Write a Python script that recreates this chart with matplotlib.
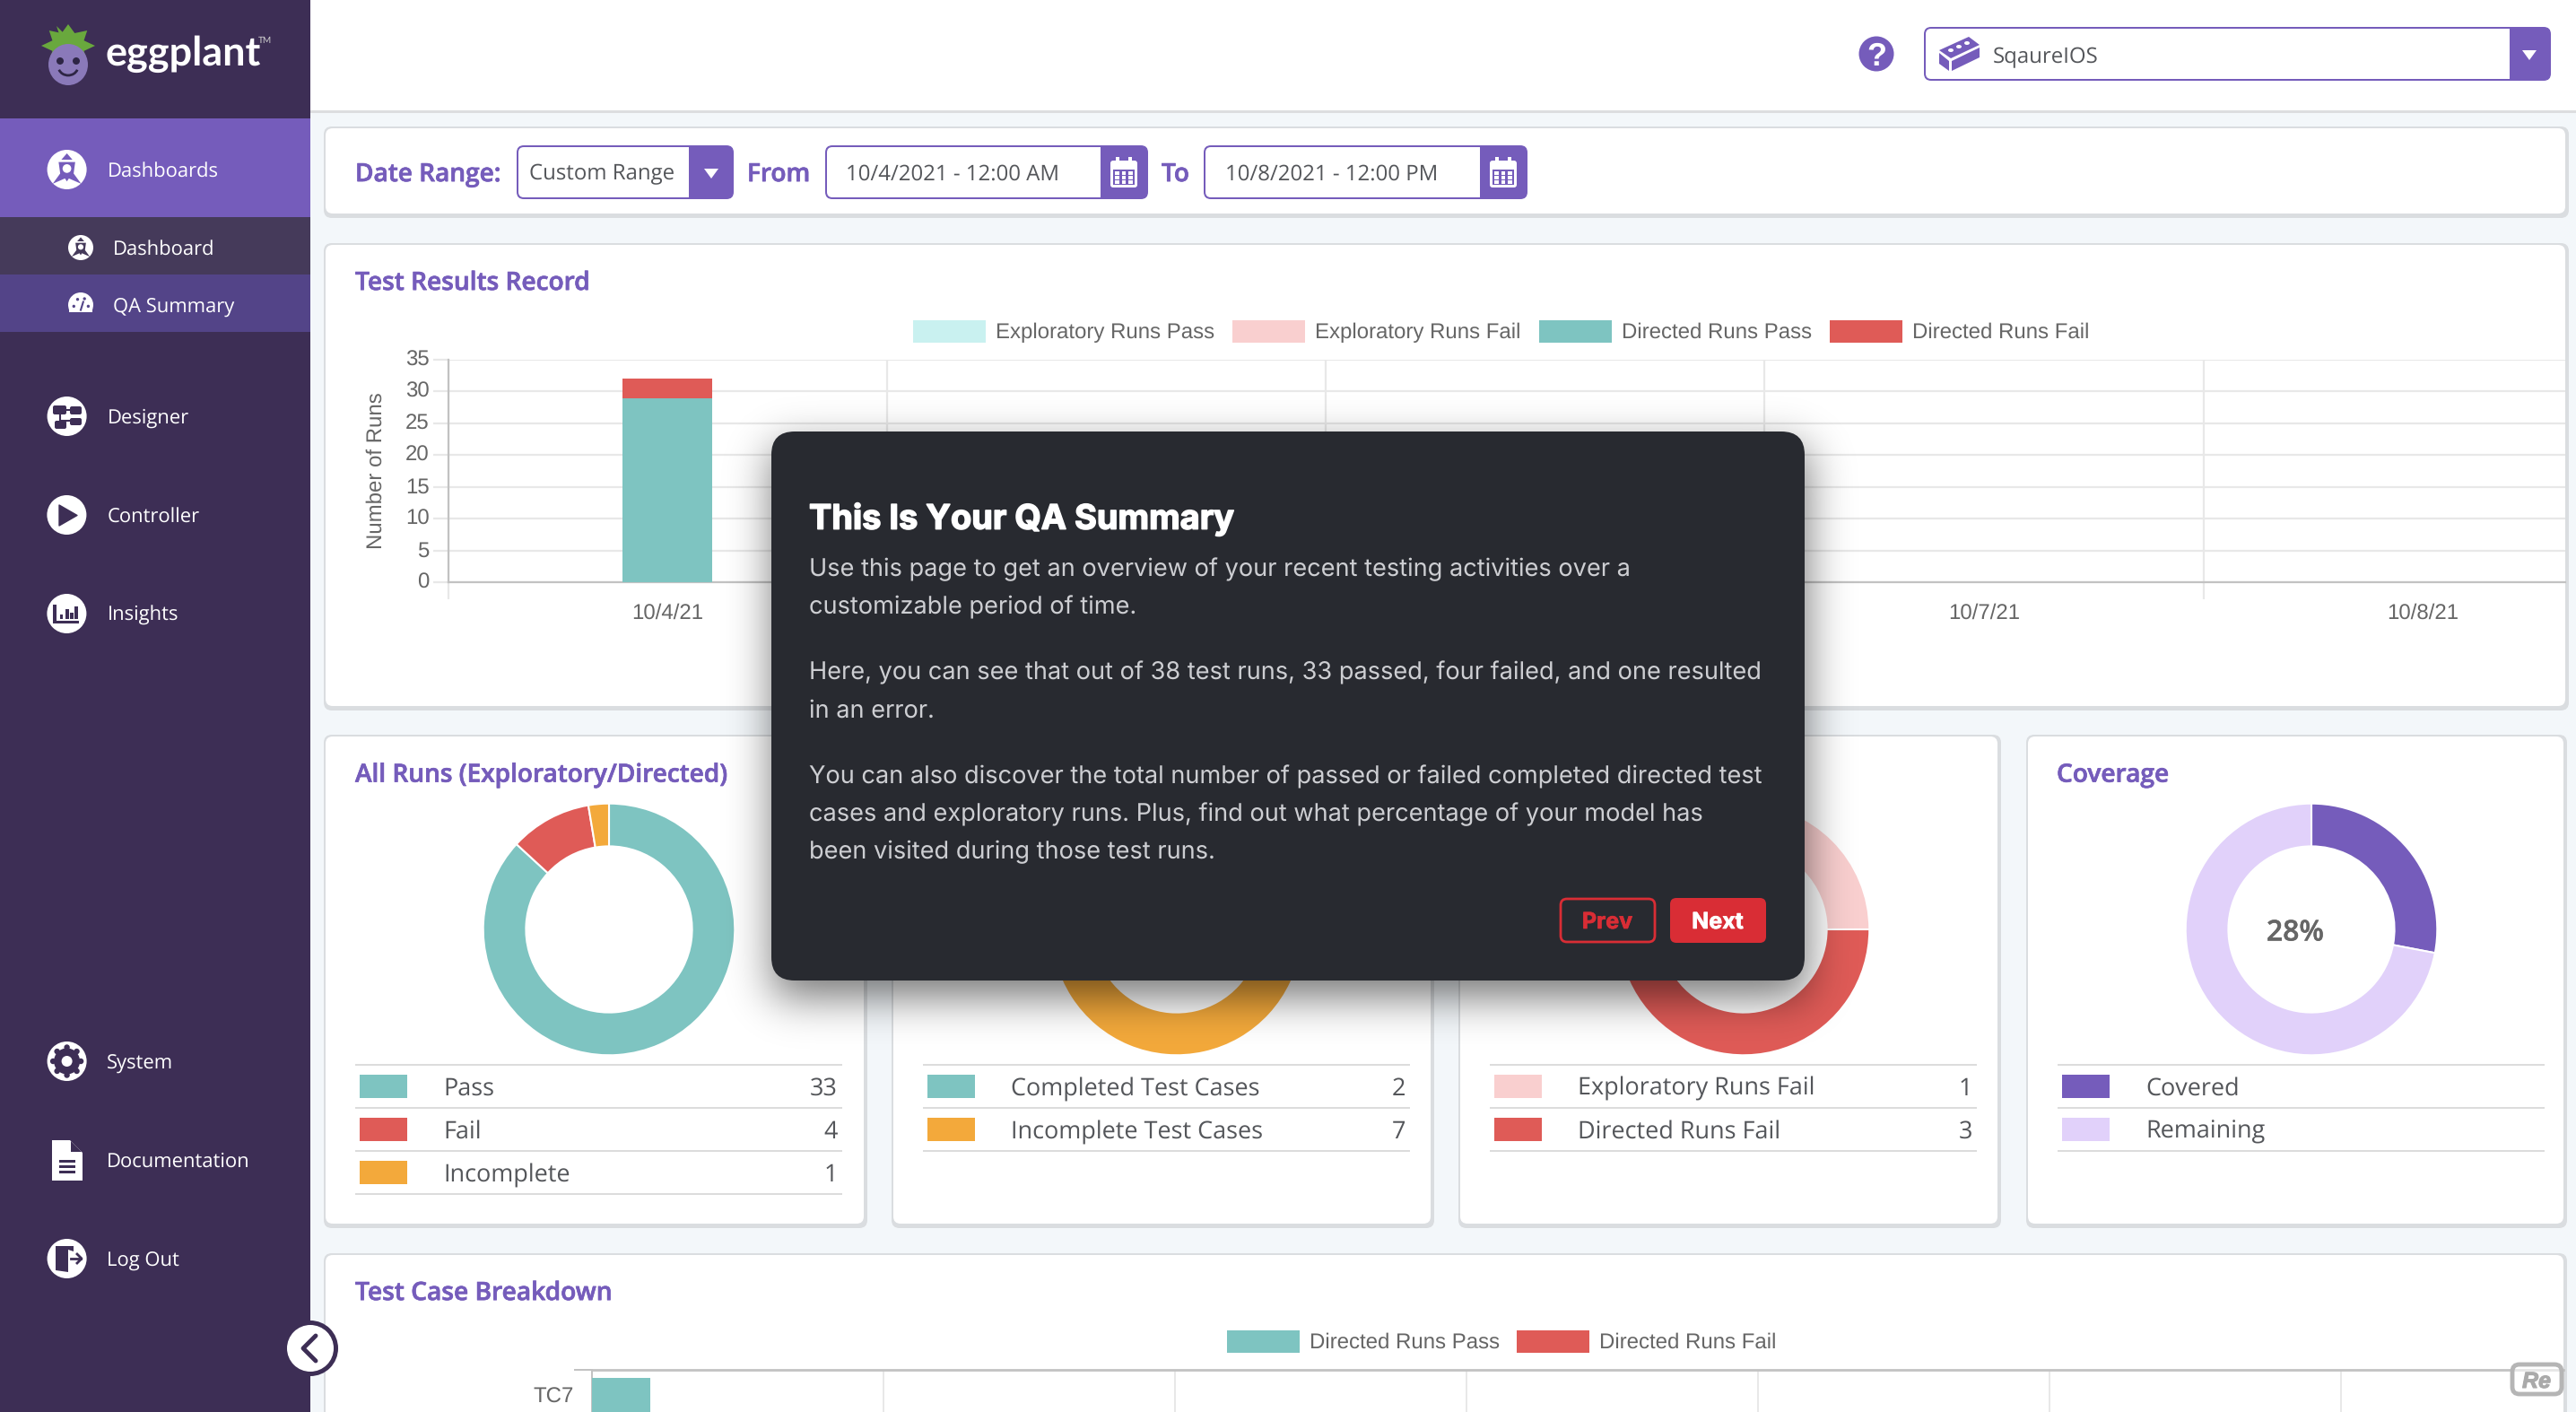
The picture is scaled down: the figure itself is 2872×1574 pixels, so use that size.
import numpy as np, math
import matplotlib
matplotlib.use("Agg")
import matplotlib.pyplot as plt
import matplotlib.patheffects as pe
from matplotlib.patches import FancyBboxPatch, Rectangle, Polygon, Circle, Ellipse, Wedge, Arc
from matplotlib.font_manager import FontProperties
from matplotlib.textpath import TextPath
from matplotlib.transforms import ScaledTranslation

plt.rcParams["text.hinting"] = "no_hinting"
plt.rcParams["text.hinting_factor"] = 1

# ---------- data ----------
dates = ["10/4/21", "10/5/21", "10/6/21", "10/7/21", "10/8/21"]
dates_hidden_by_dialog = ["10/5/21", "10/6/21"]
exploratory_pass = [0, 0, 0, 0, 0]
exploratory_fail = [0, 0, 0, 0, 0]
directed_pass = [29, 0, 0, 0, 0]
directed_fail = [3, 0, 0, 0, 0]
y_ticks = [0, 5, 10, 15, 20, 25, 30, 35]

all_runs_labels = ["Pass", "Fail", "Incomplete"]
all_runs_values = [33, 4, 1]
cases_labels = ["Completed Test Cases", "Incomplete Test Cases"]
cases_values = [2, 7]
fails_labels = ["Exploratory Runs Fail", "Directed Runs Fail"]
fails_values = [1, 3]
coverage_labels = ["Covered", "Remaining"]
coverage_values = [28, 72]

breakdown_cases = ["TC7"]
breakdown_pass = [1]
breakdown_ticks = [0, 5, 10, 15, 20, 25, 30, 35]

# ---------- colours ----------
PURPLE = "#755cbb"; SIDE = "#3d2e55"; BG = "#f3f7fa"
TEAL = "#7ec4c1"; RED = "#df5b57"; ORANGE = "#f3a93b"
PINK = "#f9cfcf"; MINT = "#c9f1f0"; LILAC = "#e1d1fa"
GREY = "#666666"; TXT = "#54565a"; GRID = "#e8e8e8"; AX = "#c2c2c2"
DLG = "#282a30"

W, H = 2872, 1574
fig = plt.figure(figsize=(W / 100, H / 100), dpi=100, facecolor=BG)


def axpx(x0, y0, x1, y1, z=1):
    a = fig.add_axes([x0 / W, 1 - y1 / H, (x1 - x0) / W, (y1 - y0) / H])
    a.set_zorder(z)
    a.patch.set_alpha(0)
    return a


def overlay(z):
    a = axpx(0, 0, W, H, z)
    a.set_xlim(0, W); a.set_ylim(H, 0); a.axis("off")
    return a


bg = overlay(0)
top = overlay(5)


def fs(s, w, family, weight="normal", style="normal"):
    fp = FontProperties(family=family, weight=weight, style=style)
    tw = TextPath((0, 0), s, size=100, prop=fp).get_extents().width
    return 100 * (w * 0.72) / tw


def T(a, x, yc, s, size, family="Open Sans", color=TXT, weight="normal", ha="left", style="normal", z=5, stroke=0):
    px = size / 0.72
    t = a.text(x, yc + 0.36 * px, s, fontsize=size, family=family, color=color, weight=weight,
               ha=ha, va="baseline", style=style, zorder=z)
    if stroke:
        t.set_path_effects([pe.withStroke(linewidth=stroke, foreground=color)])
    return t


def rr(a, x0, y0, x1, y1, r, z=2, **kw):
    kw.setdefault("lw", 0)
    p = FancyBboxPatch((x0 + r, y0 + r), x1 - x0 - 2 * r, y1 - y0 - 2 * r,
                       boxstyle=f"round,pad={r},rounding_size={r}", zorder=z, **kw)
    a.add_patch(p)
    return p


def R(a, x0, y0, x1, y1, c, z=3, **kw):
    a.add_patch(Rectangle((x0, y0), x1 - x0, y1 - y0, fc=c, lw=kw.pop("lw", 0), zorder=z, **kw))


def panel(x0, y0, x1, y1):
    rr(bg, x0 - 2, y0 - 2, x1 + 4, y1 + 5, 9, z=1, fc="#dadde0")
    rr(bg, x0, y0, x1, y1, 8, z=1.5, fc="white")


# ---------- chrome ----------
R(bg, 346, 0, W, 123, "white", z=0.5)
R(bg, 346, 123, W, 126, "#dcdddf", z=0.5)
R(bg, 0, 0, 346, H, SIDE, z=0.6)
R(bg, 0, 132, 346, 242, PURPLE, z=0.7)
R(bg, 0, 242, 346, 306, "#453a5a", z=0.7)
R(bg, 0, 306, 346, 370, "#534488", z=0.7)

# logo
leaf = []
for i in range(16):
    ang = math.pi * 2 * i / 16
    rad = 30 if i % 2 == 0 else 19
    leaf.append((76 + rad * math.sin(ang), 51 - rad * 0.8 * math.cos(ang)))
bg.add_patch(Polygon(leaf, fc="#69a83d", lw=0, zorder=3))
bg.add_patch(Polygon([(63, 29), (72, 38), (70, 44), (66, 38)], fc="#69a83d", lw=0, zorder=3))
bg.add_patch(Ellipse((76, 72), 44, 46, fc="#8a79b9", lw=0, zorder=4))
bg.add_patch(Circle((67, 68), 4, fc="#2e2545", lw=0, zorder=5))
bg.add_patch(Circle((85, 68), 4, fc="#2e2545", lw=0, zorder=5))
bg.add_patch(Arc((76, 74), 22, 20, theta1=20, theta2=160, ec="#2e2545", lw=2, zorder=5))
T(bg, 118, 57, "eggplant", fs("eggplant", 172, "Lato", "bold"), family="Lato", color="white", weight="bold")
T(bg, 288, 44, "TM", 7, family="Lato", color="#cfcfcf")

SF = fs("Dashboards", 123, "Open Sans")


def icon_lighthouse(cx, cy, r, c):
    bg.add_patch(Circle((cx, cy), r, fc="white", lw=0, zorder=4))
    bg.add_patch(Polygon([(cx - .28 * r, cy - .5 * r), (cx, cy - .82 * r), (cx + .28 * r, cy - .5 * r)], fc=c, lw=0, zorder=5))
    bg.add_patch(Polygon([(cx - .42 * r, cy - .38 * r), (cx + .42 * r, cy - .38 * r), (cx + .34 * r, cy + .2 * r),
                          (cx + .72 * r, cy + .72 * r), (cx + .1 * r, cy + .45 * r), (cx, cy + .6 * r), (cx - .1 * r, cy + .45 * r),
                          (cx - .72 * r, cy + .72 * r), (cx - .34 * r, cy + .2 * r)], fc=c, lw=0, zorder=5))
    bg.add_patch(Circle((cx, cy - .05 * r), .22 * r, fc="white", lw=0, zorder=6))


def icon_qa(cx, cy, r, c):
    bg.add_patch(Wedge((cx, cy), r, 155, 385, fc="white", lw=0, zorder=4))
    R(bg, cx - r * .9, cy, cx + r * .9, cy + r * .55, "white", z=4)
    for dx, dy in [(-.55, .1), (-.25, -.45), (.3, -.5), (.6, .1)]:
        bg.add_patch(Circle((cx + dx * r, cy + dy * r), .12 * r, fc=c, lw=0, zorder=5))
    bg.plot([cx, cx + .2 * r], [cy + .4 * r, cy - .25 * r], color=c, lw=1.5, zorder=5)


icon_lighthouse(74.6, 189, 22, PURPLE)
T(bg, 119.5, 189, "Dashboards", SF, color="white")
icon_lighthouse(90, 276, 14, "#453a5a")
T(bg, 126, 276, "Dashboard", SF, color="white")
icon_qa(90, 340, 14, "#534488")
T(bg, 126, 340.5, "QA Summary", SF, color="white")

# Designer
bg.add_patch(Circle((74.6, 464), 22, fc="white", lw=0, zorder=4))
for x0, y0, x1, y1 in [(59, 452, 74, 462), (78, 453, 91, 462), (78, 466, 91, 474), (61, 469, 74, 478)]:
    rr(bg, x0, y0, x1, y1, 2, z=5, fc=SIDE)
bg.plot([74, 78], [457, 457], color=SIDE, lw=1.5, zorder=5)
bg.plot([67, 67, 78], [462, 469, 469], color=SIDE, lw=1.5, zorder=5)
T(bg, 119.5, 464, "Designer", SF, color="white")

# Controller
bg.add_patch(Circle((74.4, 574), 22, fc="white", lw=0, zorder=4))
bg.add_patch(Polygon([(66, 563), (66, 586), (86, 574.5)], fc=SIDE, ec=SIDE, lw=1, joinstyle="round", zorder=5))
T(bg, 119.5, 574, "Controller", SF, color="white")

# Insights
bg.add_patch(Circle((74.4, 684), 22, fc="white", lw=0, zorder=4))
R(bg, 59, 674, 62.5, 695, SIDE, z=5)
R(bg, 59, 692, 88, 695, SIDE, z=5)
for x0, h in [(66.5, 5), (73, 11), (83, 14), (78, 7)]:
    R(bg, x0, 690 - h, x0 + 3.5, 690, SIDE, z=5)
T(bg, 119.5, 684, "Insights", SF, color="white")

# System
bg.add_patch(Circle((74.6, 1183), 22, fc="white", lw=0, zorder=4))
bg.add_patch(Circle((74.6, 1183), 14.5, fc=SIDE, lw=0, zorder=5))
for i in range(8):
    ang = i * math.pi / 4
    bg.add_patch(Circle((74.6 + 15.5 * math.cos(ang), 1183 + 15.5 * math.sin(ang)), 3.2, fc=SIDE, lw=0, zorder=5))
bg.add_patch(Circle((74.6, 1183), 6, fc="white", lw=0, zorder=6))
T(bg, 119, 1183.5, "System", SF, color="white")

# Documentation
bg.add_patch(Polygon([(58, 1271), (78, 1271), (92, 1285), (92, 1316), (58, 1316)], fc="white", lw=0, zorder=4))
bg.add_patch(Polygon([(79, 1272), (79, 1284), (91, 1284)], fc=SIDE, lw=0, zorder=5))
for yy in [1293, 1299, 1305]:
    R(bg, 66, yy, 84, yy + 3, SIDE, z=5)
T(bg, 119, 1293, "Documentation", SF, color="white")

# Log Out
bg.add_patch(Circle((74.6, 1403), 22, fc="white", lw=0, zorder=4))
bg.add_patch(Polygon([(62, 1389), (82, 1389), (82, 1395), (76, 1393), (76, 1418), (62, 1416)], fc=SIDE, lw=0, zorder=5))
bg.plot([79, 90], [1403, 1403], color=SIDE, lw=2, zorder=5)
bg.plot([86, 91, 86], [1398, 1403, 1408], color=SIDE, lw=2, zorder=5)
T(bg, 119, 1403.5, "Log Out", SF, color="white")

# header
bg.add_patch(Circle((2092, 60), 19.5, fc=PURPLE, lw=0, zorder=3))
T(bg, 2092, 60, "?", 26, family="Liberation Sans", color="white", weight="bold", ha="center")


def dropdown(a, x0, y0, x1, y1, xs, fill=PURPLE):
    rr(a, x0, y0, x1, y1, 8, z=3, fc=fill)
    rr(a, x0 + 2, y0 + 2, xs + 10, y1 - 2, 6, z=3.1, fc="white")
    R(a, xs, y0, x1 - 8, y1, fill, z=3.2)


def tri(a, cx, cy):
    a.add_patch(Polygon([(cx - 8, cy - 5), (cx + 8, cy - 5), (cx, cy + 6)], fc="white", lw=0, zorder=4))


def calendar(cx, cy):
    rr(bg, cx - 15, cy - 14, cx + 15, cy + 16, 3, z=4, fc="white")
    R(bg, cx - 12, cy - 4, cx + 12, cy + 13, PURPLE, z=4.1)
    for i in range(3):
        for j in range(3):
            R(bg, cx - 10 + 7.5 * i, cy - 2 + 5.2 * j, cx - 5.5 + 7.5 * i, cy + 1.5 + 5.2 * j, "white", z=4.2)
    R(bg, cx - 9, cy - 18, cx - 5, cy - 9, "white", z=4.3)
    R(bg, cx + 5, cy - 18, cx + 9, cy - 9, "white", z=4.3)


dropdown(bg, 2145, 30, 2844, 90, 2798)
tri(bg, 2820, 61)
bg.add_patch(Polygon([(2162, 56), (2195, 41), (2207, 50), (2175, 65)], fc=PURPLE, lw=0, zorder=4))
bg.add_patch(Polygon([(2162, 59), (2173, 68), (2173, 79), (2162, 71)], fc=PURPLE, lw=0, zorder=4))
bg.add_patch(Polygon([(2176, 68), (2207, 53), (2207, 64), (2176, 79)], fc=PURPLE, lw=0, zorder=4))
for dx, dy in [(2175, 56), (2184, 52), (2193, 48)]:
    bg.add_patch(Ellipse((dx, dy), 6, 4, fc="white", lw=0, zorder=5))
T(bg, 2222, 62, "SqaureIOS", fs("SqaureIOS", 116, "Open Sans"))

# date panel
panel(363, 143, 2860, 238)
BOLD = 600
ST = 0.5
TITLE = fs("Test Results Record", 259, "Open Sans", BOLD)
DR = fs("Date Range:", 158, "Open Sans", BOLD)
T(bg, 396, 192, "Date Range:", DR, color=PURPLE, weight=BOLD, stroke=ST)
dropdown(bg, 576, 162, 818, 222, 768)
tri(bg, 793, 193)
CR = fs("Custom Range", 161, "Open Sans")
T(bg, 590, 192, "Custom Range", CR)
T(bg, 833, 192, "From", DR, color=PURPLE, weight=BOLD, stroke=ST)
dropdown(bg, 920, 162, 1280, 222, 1227)
calendar(1253, 193)
T(bg, 943, 192, "10/4/2021 - 12:00 AM", CR)
T(bg, 1295, 192, "To", DR, color=PURPLE, weight=BOLD, stroke=ST)
dropdown(bg, 1342, 162, 1703, 222, 1650)
calendar(1676, 193)
T(bg, 1366, 192, "10/8/2021 - 12:00 PM", CR)

# ---------- test results record ----------
panel(363, 273, 2860, 787)
T(bg, 396, 313, "Test Results Record", TITLE, color=PURPLE, weight=BOLD, stroke=ST)

ARIAL = "Liberation Sans"
CH = 17.3
legend_top = [("Exploratory Runs Pass", MINT, 1018), ("Exploratory Runs Fail", PINK, 1374),
              ("Directed Runs Pass", TEAL, 1716), ("Directed Runs Fail", RED, 2040)]
for lab, col, x in legend_top:
    R(bg, x, 357, x + 81, 382, col, z=3)
    T(bg, x + 92, 368, lab, CH, family=ARIAL, color=GREY)

ax = axpx(499.5, 401, 2860, 649, 1)
PPC = 489.3
x = np.arange(len(dates))
bw = 100 / PPC
base = np.zeros(len(dates))
for vals, col in [(exploratory_pass, MINT), (exploratory_fail, PINK), (directed_pass, TEAL), (directed_fail, RED)]:
    v = np.array(vals, float)
    ax.bar(x, v, bw, bottom=base, color=col, lw=0, zorder=3)
    base += v
ax.set_ylim(0, 35)
ax.set_yticks(y_ticks)
ax.set_xticks(x)
ax.set_xticklabels(dates)
ax.set_xticks(np.arange(len(dates)) - 0.5, minor=True)
ax.set_xlim(-0.5, -0.5 + (2860 - 499.5) / PPC)
ax.tick_params(axis="x", which="major", length=0, pad=17, labelsize=CH, labelcolor=GREY)
ax.tick_params(axis="x", which="minor", length=14, width=1.6, color=GRID)
ax.tick_params(axis="y", which="major", length=12, width=1.6, color=GRID, labelsize=CH, labelcolor=GREY, pad=3)
for lab in ax.get_xticklabels() + ax.get_yticklabels():
    lab.set_family(ARIAL)
up = ScaledTranslation(0, 2 / 100, fig.dpi_scale_trans)
for lab in ax.get_yticklabels():
    lab.set_verticalalignment("center_baseline")
    lab.set_transform(lab.get_transform() + up)
for lab in ax.get_xticklabels():
    if lab.get_text() in dates_hidden_by_dialog:
        lab.set_visible(False)
ax.grid(axis="y", color=GRID, lw=1.6, zorder=0)
ax.grid(axis="x", which="minor", color=GRID, lw=1.6, zorder=0)
for s in ["top", "right"]:
    ax.spines[s].set_visible(False)
for s in ["left", "bottom"]:
    ax.spines[s].set_color(AX); ax.spines[s].set_linewidth(1.6)
ax.xaxis.get_minor_ticks()[0].tick1line.set_color(AX)
ax.yaxis.get_major_ticks()[0].tick1line.set_color(AX)
ax.set_ylabel("Number of Runs", family=ARIAL, fontsize=CH, color=GREY, labelpad=15)

# ---------- donut row ----------
ROW_TOP, ROW_BOTTOM = 821, 1364
LINES = [1187, 1235, 1283, 1331]
SW = [1198, 1246, 1294]
TBL = fs("Incomplete", 136, "Open Sans")
T(bg, 396, 861.5, "All Runs (Exploratory/Directed)", fs("All Runs (Exploratory/Directed)", 414, "Open Sans", BOLD), color=PURPLE, weight=BOLD, stroke=ST)
T(bg, 2293, 861.5, "Coverage", TITLE, color=PURPLE, weight=BOLD, stroke=ST)


def card(x0, x1, labels, values, colors, show=True):
    panel(x0, ROW_TOP, x1, ROW_BOTTOM)
    cx = x0 + 316
    cy = 1036
    rad = 141
    a = axpx(cx - rad, cy - rad, cx + rad, cy + rad, 1)
    a.pie(values, colors=colors, startangle=90, counterclock=False, radius=1,
          wedgeprops=dict(width=0.34, edgecolor="white", linewidth=1.5))
    a.set_xlim(-1.005, 1.005); a.set_ylim(-1.005, 1.005)
    n = len(labels)
    for i in range(n + 1):
        R(bg, x0 + 33, LINES[i] - 1, x0 + 576, LINES[i] + 1, "#dcdcdc", z=3)
    for i in range(n):
        R(bg, x0 + 38, SW[i], x0 + 91, SW[i] + 26, colors[i], z=3)
        T(bg, x0 + 131, SW[i] + 13, labels[i], TBL)
        if show:
            T(bg, x0 + 571, SW[i] + 13, str(values[i]), TBL, ha="right")


card(363, 963, all_runs_labels, all_runs_values, [TEAL, RED, ORANGE])
card(996, 1595, cases_labels, cases_values, [TEAL, ORANGE])
card(1628, 2227, fails_labels, fails_values, [PINK, RED])
card(2261, 2858, coverage_labels, coverage_values, [PURPLE, LILAC], show=False)
T(bg, 2559, 1037, f"{coverage_values[0]}%", 23, color=GREY, weight=BOLD, ha="center", stroke=0.3)

# ---------- test case breakdown ----------
panel(363, 1399, 2858, 1600)
T(bg, 396, 1439, "Test Case Breakdown", fs("Test Case Breakdown", 284, "Open Sans", BOLD), color=PURPLE, weight=BOLD, stroke=ST)
for lab, col, x0 in [("Directed Runs Pass", TEAL, 1368), ("Directed Runs Fail", RED, 1691)]:
    R(bg, x0, 1483, x0 + 81, 1508, col, z=3)
    T(bg, x0 + 92, 1494, lab, CH, family=ARIAL, color=GREY)

ab = axpx(659.5, 1527, 2858, 1574, 1)
PPU = 65.0
ab.barh([0], breakdown_pass, height=0.8, color=TEAL, lw=0, zorder=3)
ab.set_yticks([0]); ab.set_yticklabels(breakdown_cases)
ab.set_xticks(breakdown_ticks)
ab.set_xlim(0, (2858 - 659.5) / PPU)
ab.set_ylim(0.4, -0.589)
ab.tick_params(axis="x", length=0, labelbottom=False)
ab.tick_params(axis="y", length=0, pad=14, labelsize=CH, labelcolor=GREY)
for lab in ab.get_yticklabels():
    lab.set_family(ARIAL)
ab.grid(axis="x", color=GRID, lw=1.4, zorder=0)
for s in ["right", "bottom"]:
    ab.spines[s].set_visible(False)
ab.spines["left"].set_color(AX); ab.spines["left"].set_linewidth(1.4)
ab.spines["top"].set_color(AX); ab.spines["top"].set_linewidth(2)
R(bg, 640, 1526, 660, 1528, AX, z=3)

# ---------- dialog ----------
DX0, DY0, DX1, DY1 = 860, 481, 2012, 1093
erf = np.vectorize(math.erf)


def band(v, a0, a1, s):
    return 0.5 * (erf((v - a0) / (s * 2 ** .5)) - erf((v - a1) / (s * 2 ** .5)))


sx = np.arange(740, 2140, 4.0)
sy = np.arange(400, 1260, 4.0)
alpha = 0.55 * np.outer(band(sy, DY0 + 16, DY1 + 16, 24), band(sx, DX0, DX1, 24))
img = np.zeros(alpha.shape + (4,))
img[..., 3] = alpha
top.imshow(img, extent=(740, 2140, 1260, 400), aspect="auto", zorder=1, interpolation="bilinear")
top.set_xlim(0, W); top.set_ylim(H, 0)
rr(top, DX0, DY0, DX1, DY1, 26, z=2, fc=DLG)
INTER = "Inter"
T(top, 902, 576, "This Is Your QA Summary", fs("This Is Your QA Summary", 472, INTER, "bold"), family=INTER, color="white", weight="bold", stroke=1.1)
BODY = fs("Use this page to get an overview of your recent testing activities over a", 912, INTER)
body_lines = [(632, "Use this page to get an overview of your recent testing activities over a"),
              (674.5, "customizable period of time."),
              (747.5, "Here, you can see that out of 38 test runs, 33 passed, four failed, and one resulted"),
              (789.5, "in an error."),
              (863.5, "You can also discover the total number of passed or failed completed directed test"),
              (905.5, "cases and exploratory runs. Plus, find out what percentage of your model has"),
              (947.5, "been visited during those test runs.")]
for yy, s in body_lines:
    T(top, 902, yy, s, BODY, family=INTER, color="#cdced2")
rr(top, 1740, 1002, 1845, 1050, 7, z=3, fc="none", ec="#d92d35", lw=2)
rr(top, 1862, 1001, 1969, 1051, 7, z=3, fc="#d92d35")
BTN = fs("Next", 55.5, INTER, "bold")
T(top, 1792, 1026, "Prev", BTN, family=INTER, color="#d92d35", weight="bold", ha="center", stroke=0.5)
T(top, 1915, 1026, "Next", BTN, family=INTER, color="white", weight="bold", ha="center", stroke=0.5)

# collapse button
top.add_patch(Circle((346, 1503), 31, fc=SIDE, lw=0, zorder=3))
top.add_patch(Circle((346, 1503), 26, fc="white", lw=0, zorder=4))
top.plot([352, 338, 352], [1489, 1503, 1517], color=SIDE, lw=3.5, solid_capstyle="round", solid_joinstyle="round", zorder=5)

# watermark
rr(top, 2801, 1521, 2856, 1554, 8, z=3, fc=(1, 1, 1, 0.6), ec="#b5b5b5", lw=3.5)
T(top, 2828, 1538, "Re", 18, family=ARIAL, color="#aaaaaa", weight="bold", style="italic", ha="center", stroke=0.8)

fig.savefig("out.png", dpi=100, facecolor=BG)
